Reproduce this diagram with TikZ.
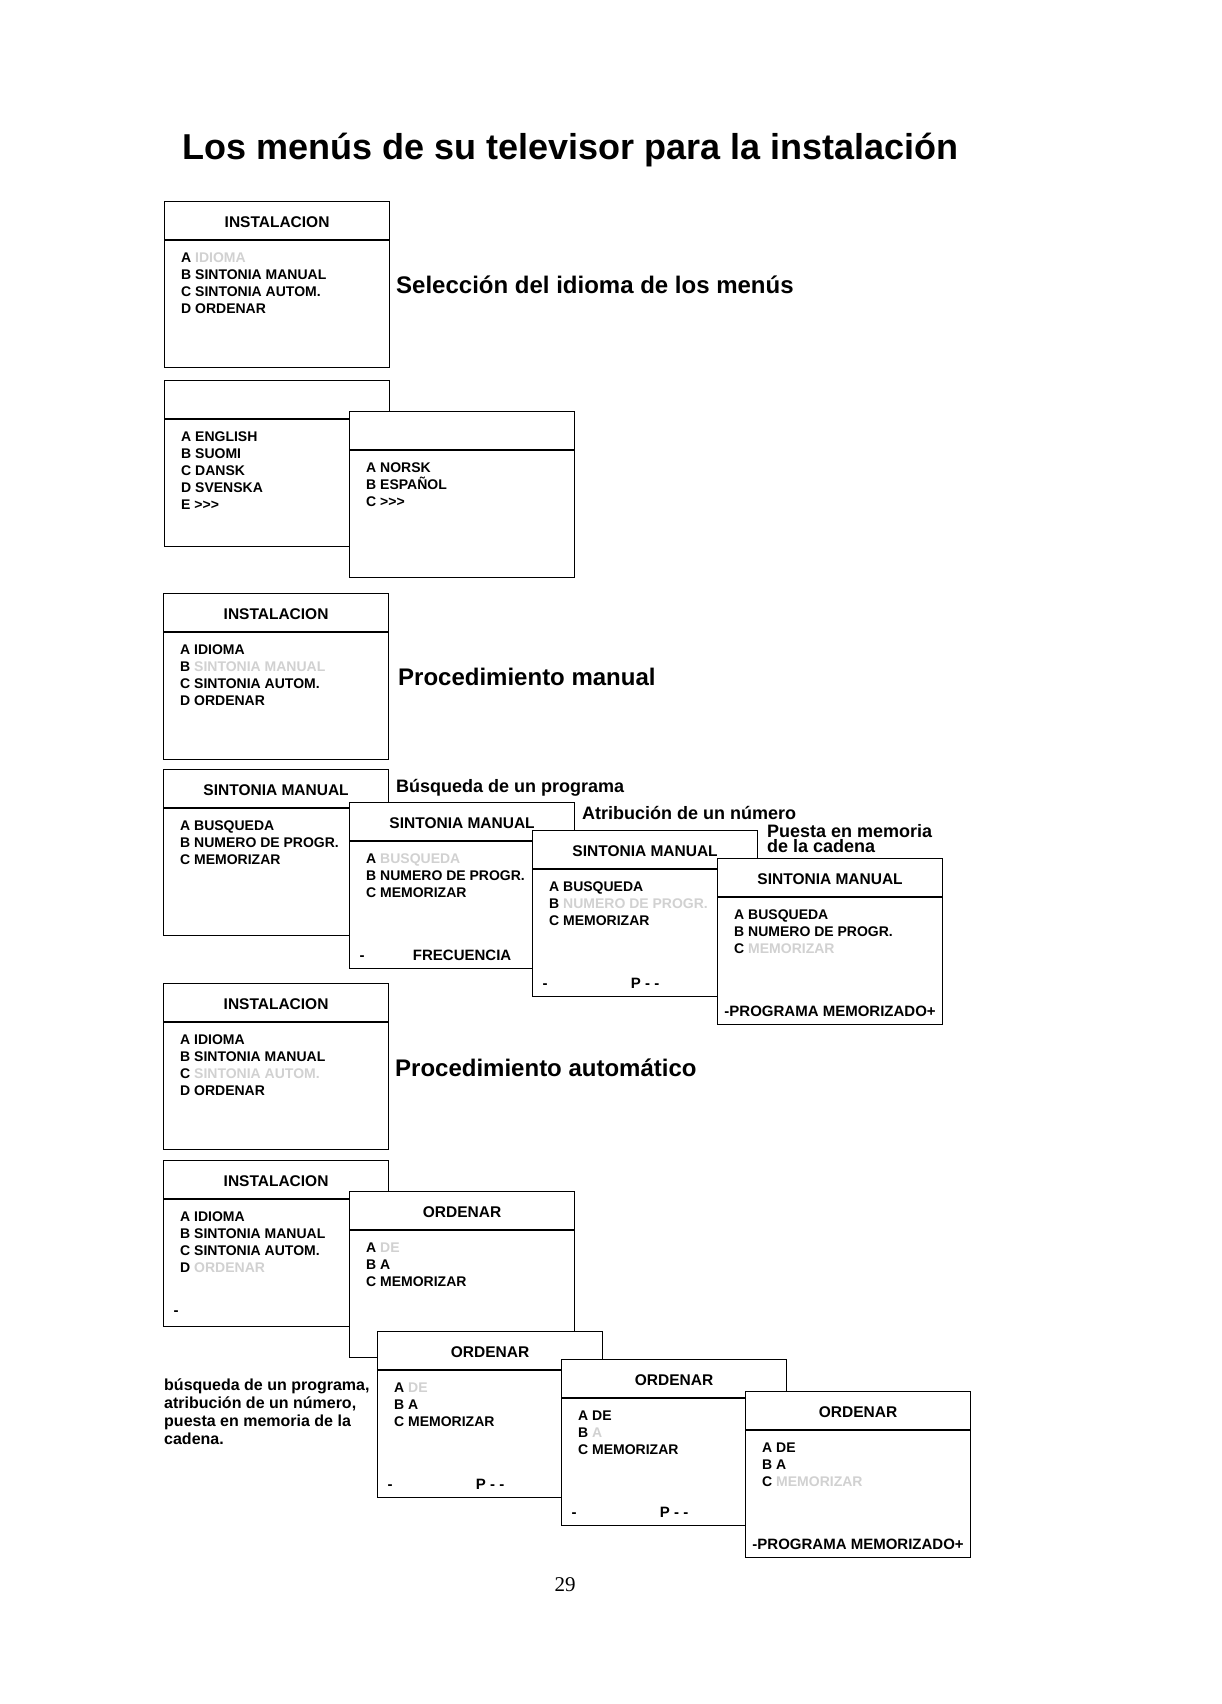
\documentclass[tikz,border=0pt]{standalone}
\usepackage{fontspec}
\setmainfont{Liberation Sans}
\newfontfamily\pagefont{Liberation Serif}
\usetikzlibrary{positioning,calc}
\tikzset{
    menuhead/.style={
        rectangle,
        draw,
        fill=white,
        line width=1.2pt,
        minimum width=225pt,
        minimum height=38pt,
        anchor=north west,
        inner sep=0pt,
        text height=14pt,
        text depth=0pt,
        font=\bfseries\fontsize{15.5}{17}\selectfont
    },
    menubody/.style={
        menuhead,
        minimum height=127pt
    },
    menuitems/.style={
        anchor=north west,
        inner sep=0pt,
        align=left,
        font=\bfseries\fontsize{14}{17}\selectfont
    },
    menufoot/.style={
        inner sep=0pt,
        font=\bfseries\fontsize{15}{17}\selectfont
    },
    heading/.style={
        anchor=base west,
        inner sep=0pt,
        font=\bfseries\fontsize{24}{28}\selectfont
    },
    steplabel/.style={
        anchor=base west,
        inner sep=0pt,
        font=\bfseries\fontsize{18}{20}\selectfont
    }
}
\newcommand{\faint}[1]{\textcolor{black!18}{#1}}
\newcommand{\more}{>{}>{}>}
\newcommand{\menufootline}[2]{\makebox[205pt]{#1\hfill #2\hfill\phantom{#1}}}
\newcommand{\menuwin}[5]{%
    \node[menuhead] (#1head) at (#2) {#3};
    \node[menubody] (#1body) at (#1head.south west) {};
    \node[menuitems] (#1items) at ($(#1body.north west)+(17,12)$) {#4};
    \node[menufoot] (#1foot) at ($(#1body.south)+(0,-14)$) {#5};
}

\begin{document}
\begin{tikzpicture}[x=1pt,y=-1pt]
    \useasboundingbox (0,0) rectangle (1221,1704);
    \node[anchor=base west, inner sep=0pt, font=\bfseries\fontsize{36}{40}\selectfont] (title) at (182,160)
        {Los menús de su televisor para la instalación};

    % Idioma
    \menuwin{instA}{164,201}{INSTALACION}{A \faint{IDIOMA}\\ B SINTONIA MANUAL\\ C SINTONIA AUTOM.\\ D ORDENAR}{}
    \node[heading] (idioma) at (396,293) {Selección del idioma de los menús};
    \menuwin{langA}{164,380}{}{A ENGLISH\\ B SUOMI\\ C DANSK\\ D SVENSKA\\ E \more}{}
    \menuwin{langB}{349,411}{}{A NORSK\\ B ESPAÑOL\\ C \more}{}

    % Procedimiento manual
    \menuwin{instB}{163,593}{INSTALACION}{A IDIOMA\\ B \faint{SINTONIA MANUAL}\\ C SINTONIA AUTOM.\\ D ORDENAR}{}
    \node[heading] (manual) at (398,685) {Procedimiento manual};
    \menuwin{manA}{163,769}{SINTONIA MANUAL}{A BUSQUEDA\\ B NUMERO DE PROGR.\\ C MEMORIZAR}{}
    \node[steplabel] (busqueda) at (396,792) {Búsqueda de un programa};
    \menuwin{manB}{349,802}{SINTONIA MANUAL}{A \faint{BUSQUEDA}\\ B NUMERO DE PROGR.\\ C MEMORIZAR}{\menufootline{-}{FRECUENCIA}}
    \node[steplabel] (atribucion) at (582,819) {Atribución de un número};
    \menuwin{manC}{532,830}{SINTONIA MANUAL}{A BUSQUEDA\\ B \faint{NUMERO DE PROGR.}\\ C MEMORIZAR}{\menufootline{-}{P - -}}
    \node[steplabel] (puesta) at (767,837) {Puesta en memoria};
    \node[steplabel] (cadena) at (767,852) {de la cadena};
    \menuwin{manD}{717,858}{SINTONIA MANUAL}{A BUSQUEDA\\ B NUMERO DE PROGR.\\ C \faint{MEMORIZAR}}{-PROGRAMA MEMORIZADO+}

    % Procedimiento automatico
    \menuwin{instC}{163,983}{INSTALACION}{A IDIOMA\\ B SINTONIA MANUAL\\ C \faint{SINTONIA AUTOM.}\\ D ORDENAR}{}
    \node[heading] (automatico) at (395,1076) {Procedimiento automático};

    % Ordenar
    \menuwin{instD}{163,1160}{INSTALACION}{A IDIOMA\\ B SINTONIA MANUAL\\ C SINTONIA AUTOM.\\ D \faint{ORDENAR}}{\menufootline{-}{}}
    \menuwin{ordA}{349,1191}{ORDENAR}{A \faint{DE}\\ B A\\ C MEMORIZAR}{}
    \menuwin{ordB}{377,1331}{ORDENAR}{A \faint{DE}\\ B A\\ C MEMORIZAR}{\menufootline{-}{P - -}}
    \menuwin{ordC}{561,1359}{ORDENAR}{A DE\\ B \faint{A}\\ C MEMORIZAR}{\menufootline{-}{P - -}}
    \menuwin{ordD}{745,1391}{ORDENAR}{A DE\\ B A\\ C \faint{MEMORIZAR}}{-PROGRAMA MEMORIZADO+}
    \node[anchor=north west, inner sep=0pt, align=left, font=\bfseries\fontsize{16}{18}\selectfont] (resumen) at (164,1379)
        {búsqueda de un programa,\\ atribución de un número,\\ puesta en memoria de la\\ cadena.};

    \node[font=\pagefont\fontsize{21}{24}\selectfont] (pagina) at (565,1585) {29};
\end{tikzpicture}
\end{document}
